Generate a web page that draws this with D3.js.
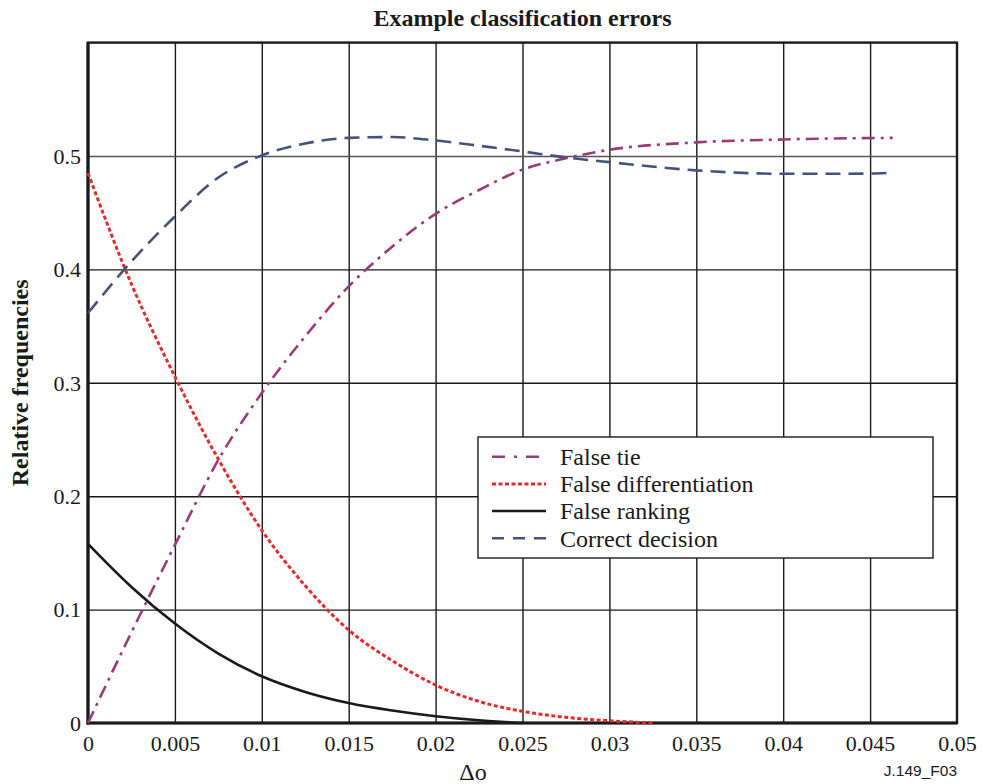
<!DOCTYPE html>
<html>
<head>
<meta charset="utf-8">
<script src="https://cdn.jsdelivr.net/npm/d3@7"></script>
<style>
  html, body { margin: 0; padding: 0; background: #fff; }
  svg { display: block; }
</style>
</head>
<body>
<svg id="chart" width="982" height="784"></svg>
<script>
// ---- data ----
const xTicks = [0, 0.005, 0.01, 0.015, 0.02, 0.025, 0.03, 0.035, 0.04, 0.045, 0.05];
const xTickLabels = ["0", "0.005", "0.01", "0.015", "0.02", "0.025", "0.03", "0.035", "0.04", "0.045", "0.05"];
const yTicks = [0, 0.1, 0.2, 0.3, 0.4, 0.5];
const yTickLabels = ["0", "0.1", "0.2", "0.3", "0.4", "0.5"];

const seriesNames = ["False tie", "False differentiation", "False ranking", "Correct decision"];

const falseTieX = [0, 0.0025, 0.005, 0.0075, 0.01, 0.0125, 0.015, 0.0175, 0.02, 0.0225, 0.025, 0.0275, 0.03, 0.035, 0.04, 0.0463];
const falseTieY = [0, 0.08, 0.157, 0.232, 0.291, 0.341, 0.385, 0.42, 0.449, 0.470, 0.488, 0.498, 0.5055, 0.512, 0.5146, 0.516];

const falseDiffX = [0, 0.0025, 0.005, 0.0075, 0.01, 0.0125, 0.015, 0.0175, 0.02, 0.0225, 0.025, 0.0275, 0.03, 0.0325];
const falseDiffY = [0.485, 0.387, 0.3055, 0.2326, 0.170, 0.121, 0.082, 0.055, 0.0335, 0.019, 0.0103, 0.005, 0.002, 0.0];

const falseRankX = [0, 0.0025, 0.005, 0.0075, 0.01, 0.0125, 0.015, 0.0175, 0.02, 0.0225, 0.025];
const falseRankY = [0.158, 0.12, 0.0877, 0.0612, 0.0412, 0.0274, 0.0176, 0.011, 0.006, 0.0024, 0.0];

const correctX = [0, 0.0025, 0.005, 0.0075, 0.01, 0.0125, 0.015, 0.0175, 0.02, 0.0225, 0.025, 0.0275, 0.03, 0.035, 0.04, 0.045, 0.046];
const correctY = [0.3615, 0.407, 0.4467, 0.481, 0.5005, 0.511, 0.516, 0.5167, 0.5137, 0.509, 0.504, 0.4987, 0.4946, 0.4873, 0.4843, 0.4845, 0.485];

// ---- layout ----
const SERIF = "'Liberation Serif', 'Times New Roman', Times, serif";
const SANS = "'Liberation Sans', Arial, sans-serif";
const svg = d3.select("#chart");
const pL = 88, pR = 957, pT = 42.6, pB = 723;
const x = d3.scaleLinear().domain([0, 0.05]).range([pL, pR]);
const y = d3.scaleLinear().domain([0, 0.6]).range([pB, pT]);

svg.append("rect").attr("width", 982).attr("height", 784).attr("fill", "#fff");

// grid
const xGrid = svg.append("g").attr("transform", `translate(0,${pB})`)
  .call(d3.axisBottom(x).tickValues(xTicks.slice(1, -1)).tickSize(-(pB - pT)).tickFormat(""));
xGrid.select(".domain").remove();
xGrid.selectAll("line").attr("stroke", "#1a1a1a").attr("stroke-width", 1.4);

const yGrid = svg.append("g").attr("transform", `translate(${pL},0)`)
  .call(d3.axisLeft(y).tickValues(yTicks.slice(1)).tickSize(-(pR - pL)).tickFormat(""));
yGrid.select(".domain").remove();
yGrid.selectAll("line").attr("stroke", d => d === 0.5 ? "#555" : "#1a1a1a").attr("stroke-width", 1.4);

// axis labels
const xAxis = svg.append("g").attr("transform", `translate(0,${pB})`)
  .call(d3.axisBottom(x).tickValues(xTicks).tickSize(0).tickPadding(0)
    .tickFormat((d, i) => xTickLabels[i]));
xAxis.select(".domain").remove();
xAxis.selectAll("text").style("font-family", SERIF).style("font-size", "22px")
  .attr("fill", "#1a1a1a").attr("dy", null).attr("y", 28);

const yAxis = svg.append("g").attr("transform", `translate(${pL},0)`)
  .call(d3.axisLeft(y).tickValues(yTicks).tickSize(0).tickPadding(7)
    .tickFormat((d, i) => yTickLabels[i]));
yAxis.select(".domain").remove();
yAxis.selectAll("text").style("font-family", SERIF).style("font-size", "22px")
  .attr("fill", "#1a1a1a").attr("dy", "0.33em");

// frame
svg.append("rect").attr("x", pL).attr("y", pT).attr("width", pR - pL).attr("height", pB - pT)
  .attr("fill", "none").attr("stroke", "#1a1a1a").attr("stroke-width", 2.4);
svg.append("line").attr("x1", pL).attr("x2", pL).attr("y1", pT).attr("y2", pB + 1.5)
  .attr("stroke", "#1a1a1a").attr("stroke-width", 3.2);
svg.append("line").attr("x1", pL - 1.5).attr("x2", pR).attr("y1", pB).attr("y2", pB)
  .attr("stroke", "#1a1a1a").attr("stroke-width", 3.2);

// series
const styles = [
  { xs: falseTieX, ys: falseTieY, color: "#9a3a7a", width: 2.6, dash: "13,6,3,6" },
  { xs: falseDiffX, ys: falseDiffY, color: "#e52a2a", width: 3, dash: "4,2.5" },
  { xs: falseRankX, ys: falseRankY, color: "#1a1a1a", width: 2.6, dash: null },
  { xs: correctX, ys: correctY, color: "#43537d", width: 2.6, dash: "15,8" }
];
const line = d3.line().x(d => x(d[0])).y(d => y(d[1])).curve(d3.curveMonotoneX);
styles.forEach(s => {
  const pts = s.xs.map((v, i) => [v, s.ys[i]]);
  svg.append("path").attr("d", line(pts)).attr("fill", "none")
    .attr("stroke", s.color).attr("stroke-width", s.width)
    .attr("stroke-dasharray", s.dash);
});

// legend
const lg = svg.append("g");
lg.append("rect").attr("x", 478).attr("y", 437).attr("width", 455).attr("height", 121)
  .attr("fill", "#fff").attr("stroke", "#1a1a1a").attr("stroke-width", 1.4);
const legendRowsY = [456.7, 484, 511, 538.3];
const legendDash = ["13,9,3,9", "4,2.5", null, "12,9"];
seriesNames.forEach((name, i) => {
  const s = styles[i];
  lg.append("line").attr("x1", 492).attr("x2", 546).attr("y1", legendRowsY[i]).attr("y2", legendRowsY[i])
    .attr("stroke", s.color).attr("stroke-width", s.width).attr("stroke-dasharray", legendDash[i]);
  lg.append("text").attr("x", 560).attr("y", legendRowsY[i] + 8.3)
    .style("font-family", SERIF).style("font-size", "24px").attr("fill", "#1a1a1a").text(name);
});

// title & labels
svg.append("text").attr("x", (pL + pR) / 2).attr("y", 26).attr("text-anchor", "middle")
  .style("font-family", SERIF).style("font-size", "24px").style("font-weight", "bold")
  .attr("fill", "#1a1a1a").text("Example classification errors");
svg.append("text").attr("transform", `translate(28,${(pT + pB) / 2}) rotate(-90)`)
  .attr("text-anchor", "middle").style("font-family", SERIF).style("font-size", "24px")
  .style("font-weight", "bold").attr("fill", "#1a1a1a").text("Relative frequencies");
svg.append("text").attr("x", 473).attr("y", 780).attr("text-anchor", "middle")
  .style("font-family", SERIF).style("font-size", "24px").attr("fill", "#1a1a1a").text("Δo");
svg.append("text").attr("x", 957).attr("y", 776).attr("text-anchor", "end")
  .style("font-family", SANS).style("font-size", "15.5px").attr("fill", "#1a1a1a").text("J.149_F03");
</script>
</body>
</html>
